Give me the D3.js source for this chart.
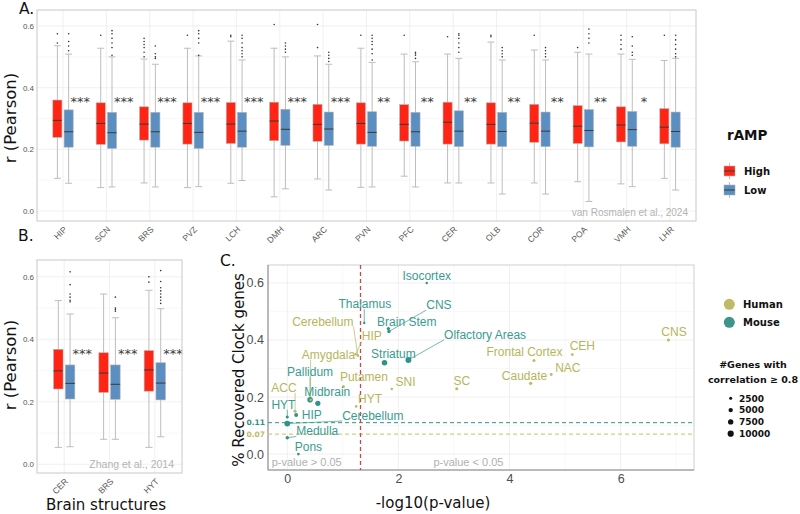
<!DOCTYPE html>
<html>
<head>
<meta charset="utf-8">
<script src="https://cdn.jsdelivr.net/npm/d3@7"></script>
<style>
body { margin: 0; background: #fff; }
svg text { font-family: "Liberation Sans", Arial, sans-serif; }
svg .ttl { font-family: "DejaVu Sans", Verdana, sans-serif; }
</style>
</head>
<body>
<svg id="fig" width="800" height="514"></svg>
<script>
// ---- panel A : van Rosmalen et al., 2024 ----
var regionsA = ["HIP","SCN","BRS","PVZ","LCH","DMH","ARC","PVN","PFC","CER","OLB","COR","POA","VMH","LHR"];
// [lower whisker, q1, median, q3, upper whisker]
var highA = [
  [0.106,0.239,0.294,0.360,0.536],[0.076,0.216,0.284,0.351,0.528],[0.091,0.230,0.282,0.338,0.493],
  [0.076,0.217,0.284,0.351,0.528],[0.090,0.219,0.282,0.352,0.551],[0.046,0.228,0.292,0.353,0.528],
  [0.104,0.226,0.281,0.346,0.503],[0.077,0.217,0.284,0.351,0.528],[0.113,0.227,0.281,0.345,0.509],
  [0.091,0.217,0.288,0.353,0.509],[0.091,0.217,0.281,0.351,0.548],[0.091,0.223,0.285,0.346,0.522],
  [0.095,0.219,0.275,0.342,0.515],[0.088,0.224,0.279,0.338,0.509],[0.106,0.218,0.272,0.332,0.488]
];
var lowA = [
  [0.090,0.207,0.257,0.328,0.509],[0.078,0.203,0.254,0.320,0.500],[0.078,0.207,0.257,0.320,0.476],
  [0.079,0.203,0.255,0.320,0.503],[0.099,0.207,0.259,0.320,0.490],[0.072,0.213,0.265,0.330,0.500],
  [0.068,0.213,0.266,0.321,0.476],[0.078,0.210,0.255,0.322,0.482],[0.078,0.210,0.257,0.320,0.484],
  [0.091,0.209,0.259,0.325,0.495],[0.055,0.209,0.258,0.320,0.490],[0.055,0.209,0.259,0.321,0.490],
  [0.031,0.208,0.261,0.329,0.509],[0.079,0.210,0.264,0.323,0.492],[0.068,0.207,0.258,0.321,0.495]
];
var highOutA = [[0.575,0.545],[0.57],[0.56,0.55,0.54,0.53,0.515,0.50],[0.57],[0.57,0.565],[0.605],
  [0.605,0.53],[0.57],[0.57],[0.565],[0.57,0.565],[0.57],[0.53],[0.57,0.555,0.54,0.525],[0.57]];
var lowOutA = [[0.575,0.55,0.535,0.52],[0.585,0.575,0.56,0.545,0.53,0.505],[0.535,0.51,0.50,0.495],
  [0.585,0.575,0.56,0.545,0.505],[0.57,0.56,0.545,0.53,0.52,0.51,0.50],[0.545,0.535,0.525,0.515],
  [0.515,0.505,0.495,0.485],[0.57,0.56,0.55,0.54,0.525,0.51,0.49],[0.515,0.51,0.505,0.495],
  [0.575,0.57,0.56,0.545,0.53,0.515],[0.53,0.52,0.51,0.50],[0.53,0.52,0.51,0.50],
  [0.59,0.575,0.56,0.545],[0.565,0.535,0.515,0.505],[0.57,0.555,0.54,0.525,0.51,0.50]];
var sigA = ["***","***","***","***","***","***","***","**","**","**","**","**","**","*",""];

// ---- panel B : Zhang et al., 2014 ----
var regionsB = ["CER","BRS","HYT"];
var highB = [[0.054,0.241,0.299,0.368,0.524],[0.080,0.230,0.292,0.357,0.545],[0.054,0.234,0.302,0.364,0.557]];
var lowB = [[0.056,0.209,0.259,0.318,0.481],[0.080,0.208,0.256,0.318,0.469],[0.088,0.206,0.260,0.325,0.498]];
var highOutB = [[],[],[0.60,0.583]];
var lowOutB = [[0.616,0.575,0.545,0.535,0.525,0.52],[0.535,0.50,0.495,0.49],
  [0.62,0.585,0.565,0.555,0.545,0.535,0.525,0.515]];
var sigB = ["***","***","***"];

// ---- panel C : recovered clock genes ----
var cNames   = ["Isocortex","Thalamus","CNS","Brain Stem","Olfactory Areas","Striatum","Pallidum","Midbrain","HYT","HIP","Cerebellum","Medulla","Pons",
                "Cerebellum","HIP","Amygdala","Putamen","HYT","SNI","SC","Frontal Cortex","Caudate","NAC","CEH","CNS","ACC"];
var cSpecies = ["Mouse","Mouse","Mouse","Mouse","Mouse","Mouse","Mouse","Mouse","Mouse","Mouse","Mouse","Mouse","Mouse",
                "Human","Human","Human","Human","Human","Human","Human","Human","Human","Human","Human","Human","Human"];
var cLogP    = [2.51,1.385,1.83,1.82,2.18,1.75,0.41,0.55,0.0,0.16,0.0,0.0,0.2,
                1.27,1.23,0.42,1.01,1.24,1.88,3.05,4.44,4.38,4.75,5.13,6.86,0.14];
var cRecov   = [0.60,0.46,0.43,0.44,0.33,0.32,0.19,0.178,0.13,0.137,0.107,0.057,0.0,
                0.345,0.35,0.19,0.237,0.167,0.228,0.229,0.328,0.248,0.279,0.349,0.40,0.15];
var cGenes   = [1500,1500,3000,3000,9000,8000,8000,7000,2500,4000,8500,3000,2000,
                1800,1800,1800,2500,1800,1800,2500,2500,3000,2200,2000,2500,2500];
var thrMouse = 0.11, thrHuman = 0.07, pCut = 0.05;
var sizeKeys = [2500,5000,7500,10000];

// label placement (data units), as chosen by the repel layout
var labelPosC = [[2.51,0.625],[1.396,0.526],[2.73,0.523],[2.15,0.465],[3.56,0.419],[1.91,0.353],[0.41,0.29],[0.72,0.217],
                 [-0.07,0.174],[0.44,0.137],[1.54,0.134],[0.54,0.08],[0.38,0.025],
                 [0.64,0.465],[1.52,0.413],[0.74,0.349],[1.38,0.272],[1.49,0.194],[2.13,0.252],[3.14,0.256],
                 [4.27,0.36],[4.27,0.273],[5.05,0.302],[5.31,0.379],[6.96,0.427],[-0.06,0.233]];

var svg = d3.select("#fig");
var colHigh = "#ff2413", colLow = "#5b8ec1";
var colHuman = "#bdbb66", colMouse = "#30938a";
var txtHuman = "#b7b55c", txtMouse = "#3a9b90";

function drawBoxPanel(o) {
  var x = d3.scalePoint().domain(o.regions).range([o.left, o.right]).padding(0.6);
  var y = d3.scaleLinear().domain(o.yDomain).range([o.bottom, o.top]);
  var step = x.step(), bw = step * 0.21, gap = step * 0.025;
  var g = svg.append("g");

  g.selectAll(".minor").data([0.1, 0.3, 0.5]).enter().append("line")
    .attr("x1", o.left).attr("x2", o.right)
    .attr("y1", function(d) { return y(d); }).attr("y2", function(d) { return y(d); })
    .attr("stroke", "#f4f4f4").attr("stroke-width", 0.6);
  g.selectAll(".major").data([0, 0.2, 0.4, 0.6]).enter().append("line")
    .attr("x1", o.left).attr("x2", o.right)
    .attr("y1", function(d) { return y(d); }).attr("y2", function(d) { return y(d); })
    .attr("stroke", "#ececec").attr("stroke-width", 0.8);
  g.selectAll(".vgrid").data(o.regions).enter().append("line")
    .attr("x1", function(d) { return x(d); }).attr("x2", function(d) { return x(d); })
    .attr("y1", o.top).attr("y2", o.bottom)
    .attr("stroke", "#ececec").attr("stroke-width", 0.8);

  var boxes = [];
  o.regions.forEach(function(r, i) {
    boxes.push({r: r, s: o.high[i], out: o.highOut[i], x0: x(r) - gap - bw, fill: colHigh});
    boxes.push({r: r, s: o.low[i], out: o.lowOut[i], x0: x(r) + gap, fill: colLow});
  });

  var b = g.selectAll(".box").data(boxes).enter().append("g");
  b.append("line")
    .attr("x1", function(d) { return d.x0 + bw / 2; }).attr("x2", function(d) { return d.x0 + bw / 2; })
    .attr("y1", function(d) { return y(d.s[4]); }).attr("y2", function(d) { return y(d.s[0]); })
    .attr("stroke", "#bdbdbd").attr("stroke-width", 1);
  [0, 4].forEach(function(k) {
    b.append("line")
      .attr("x1", function(d) { return d.x0 + bw * 0.12; }).attr("x2", function(d) { return d.x0 + bw * 0.88; })
      .attr("y1", function(d) { return y(d.s[k]); }).attr("y2", function(d) { return y(d.s[k]); })
      .attr("stroke", "#bdbdbd").attr("stroke-width", 1);
  });
  b.append("rect")
    .attr("x", function(d) { return d.x0; }).attr("width", bw)
    .attr("y", function(d) { return y(d.s[3]); })
    .attr("height", function(d) { return y(d.s[1]) - y(d.s[3]); })
    .attr("fill", function(d) { return d.fill; })
    .attr("stroke", "#b4b4b4").attr("stroke-width", 0.6);
  b.append("line")
    .attr("x1", function(d) { return d.x0; }).attr("x2", function(d) { return d.x0 + bw; })
    .attr("y1", function(d) { return y(d.s[2]); }).attr("y2", function(d) { return y(d.s[2]); })
    .attr("stroke", "#3a3a3a").attr("stroke-width", 1);
  b.each(function(d) {
    d3.select(this).selectAll("circle").data(d.out).enter().append("circle")
      .attr("cx", d.x0 + bw / 2).attr("cy", function(v) { return y(v); })
      .attr("r", 0.8).attr("fill", "#333");
  });

  g.selectAll(".sig").data(o.regions).enter().append("text")
    .attr("class", "ttl")
    .attr("x", function(d) { return x(d) + step * 0.4; })
    .attr("y", y(o.sigY) + 7.5)
    .attr("text-anchor", "middle").attr("font-size", "13px").attr("fill", "#3c3c3c")
    .text(function(d, i) { return o.sig[i]; });

  g.append("rect").attr("x", o.left).attr("y", o.top)
    .attr("width", o.right - o.left).attr("height", o.bottom - o.top)
    .attr("fill", "none").attr("stroke", "#c8c8c8").attr("stroke-width", 1);

  var ay = g.append("g").attr("transform", "translate(" + o.left + ",0)")
    .call(d3.axisLeft(y).tickValues([0, 0.2, 0.4, 0.6]).tickFormat(d3.format(".1f")).tickSize(0).tickPadding(3));
  ay.select(".domain").remove();
  ay.selectAll("text").attr("font-size", "8px").attr("fill", "#555");

  var ax = g.append("g").attr("transform", "translate(0," + o.bottom + ")")
    .call(d3.axisBottom(x).tickSize(0));
  ax.select(".domain").remove();
  ax.selectAll("text")
    .attr("x", 0).attr("y", 0).attr("dy", 0)
    .attr("transform", "translate(4,9) rotate(-45)")
    .attr("text-anchor", "end")
    .attr("font-size", "8.5px").attr("fill", "#555");

  g.append("text").attr("x", o.right - 8).attr("y", o.bottom - 5)
    .attr("text-anchor", "end").attr("font-size", o.creditSize).attr("fill", "#b3b3b3")
    .text(o.credit);

  g.append("text").attr("class", "ttl")
    .attr("transform", "translate(16," + o.titleY + ") rotate(-90)")
    .attr("text-anchor", "middle").attr("font-size", "16.5px").attr("fill", "#111")
    .text("r (Pearson)");
}

drawBoxPanel({regions: regionsA, high: highA, low: lowA, highOut: highOutA, lowOut: lowOutA, sig: sigA,
  left: 37, right: 696, top: 10, bottom: 221, yDomain: [-0.0324, 0.652], sigY: 0.365,
  credit: "van Rosmalen et al., 2024", creditSize: "10px", titleY: 118});

drawBoxPanel({regions: regionsB, high: highB, low: lowB, highOut: highOutB, lowOut: lowOutB, sig: sigB,
  left: 37, right: 182, top: 260, bottom: 473, yDomain: [-0.028, 0.654], sigY: 0.364,
  credit: "Zhang et al., 2014", creditSize: "10.5px", titleY: 365});

svg.append("text").attr("class", "ttl").attr("x", 106).attr("y", 510)
  .attr("text-anchor", "middle").attr("font-size", "15px").attr("fill", "#111").text("Brain structures");

// panel letters
[["A.", 19, 14], ["B.", 18, 241], ["C.", 220, 266]].forEach(function(p) {
  svg.append("text").attr("class", "ttl").attr("x", p[1]).attr("y", p[2])
    .attr("font-size", "15.5px").attr("fill", "#111").text(p[0]);
});

// legend A
svg.append("text").attr("class", "ttl").attr("x", 727).attr("y", 140)
  .attr("font-size", "13.5px").attr("font-weight", "bold").attr("fill", "#111").text("rAMP");
[["High", colHigh, 166], ["Low", colLow, 185]].forEach(function(k) {
  var lg = svg.append("g");
  lg.append("line").attr("x1", 729.5).attr("x2", 729.5).attr("y1", k[2] - 3).attr("y2", k[2] + 13)
    .attr("stroke", "#bdbdbd");
  lg.append("rect").attr("x", 724).attr("y", k[2]).attr("width", 11).attr("height", 10)
    .attr("fill", k[1]).attr("stroke", "#b4b4b4").attr("stroke-width", 0.6);
  lg.append("line").attr("x1", 724).attr("x2", 735).attr("y1", k[2] + 5).attr("y2", k[2] + 5)
    .attr("stroke", "#3a3a3a");
  lg.append("text").attr("class", "ttl").attr("x", 744).attr("y", k[2] + 8.5)
    .attr("font-size", "10px").attr("font-weight", "bold").attr("fill", "#111").text(k[0]);
});

// ---- panel C ----
var cL = 268, cR = 694, cT = 265, cB = 470;
var xC = d3.scaleLinear().domain([-0.347, 7.32]).range([cL, cR]);
var yC = d3.scaleLinear().domain([-0.056, 0.663]).range([cB, cT]);
var rC = d3.scaleSqrt().domain([0, 10000]).range([0, 3.1]);
var gC = svg.append("g");

gC.selectAll(".cminy").data([0.1, 0.3, 0.5]).enter().append("line")
  .attr("x1", cL).attr("x2", cR).attr("y1", function(d) { return yC(d); }).attr("y2", function(d) { return yC(d); })
  .attr("stroke", "#f4f4f4").attr("stroke-width", 0.6);
gC.selectAll(".cmajy").data([0, 0.2, 0.4, 0.6]).enter().append("line")
  .attr("x1", cL).attr("x2", cR).attr("y1", function(d) { return yC(d); }).attr("y2", function(d) { return yC(d); })
  .attr("stroke", "#ececec").attr("stroke-width", 0.8);
gC.selectAll(".cminx").data([1, 3, 5, 7]).enter().append("line")
  .attr("y1", cT).attr("y2", cB).attr("x1", function(d) { return xC(d); }).attr("x2", function(d) { return xC(d); })
  .attr("stroke", "#f4f4f4").attr("stroke-width", 0.6);
gC.selectAll(".cmajx").data([0, 2, 4, 6]).enter().append("line")
  .attr("y1", cT).attr("y2", cB).attr("x1", function(d) { return xC(d); }).attr("x2", function(d) { return xC(d); })
  .attr("stroke", "#ececec").attr("stroke-width", 0.8);

gC.append("rect").attr("x", cL).attr("y", cT).attr("width", cR - cL).attr("height", cB - cT)
  .attr("fill", "none").attr("stroke", "#cfcfcf");
gC.append("line").attr("x1", cL).attr("x2", cL).attr("y1", cT).attr("y2", cB).attr("stroke", "#8c8c8c");
gC.append("line").attr("x1", cL).attr("x2", cR).attr("y1", cB).attr("y2", cB).attr("stroke", "#8c8c8c");

// thresholds
gC.append("line").attr("x1", cL).attr("x2", cR).attr("y1", yC(thrMouse)).attr("y2", yC(thrMouse))
  .attr("stroke", colMouse).attr("stroke-width", 1).attr("stroke-dasharray", "4,3");
gC.append("line").attr("x1", cL).attr("x2", cR).attr("y1", yC(thrHuman)).attr("y2", yC(thrHuman))
  .attr("stroke", "#cfcd86").attr("stroke-width", 1.1).attr("stroke-dasharray", "4,3");
var xCut = Math.round(xC(-Math.log10(pCut))) + 0.5;
gC.append("line").attr("x1", xCut).attr("x2", xCut)
  .attr("y1", cT).attr("y2", cB)
  .style("stroke", "#c4484e").style("stroke-width", 1.3).style("stroke-dasharray", "4,3");
gC.append("text").attr("x", cL - 3).attr("y", yC(thrMouse) + 2.5).attr("text-anchor", "end")
  .attr("font-size", "7.5px").attr("font-weight", "bold").attr("fill", colMouse).style("font-family", "DejaVu Sans, sans-serif")
  .text(thrMouse.toFixed(2));
gC.append("text").attr("x", cL - 3).attr("y", yC(thrHuman) + 2.5).attr("text-anchor", "end")
  .attr("font-size", "7.5px").attr("font-weight", "bold").attr("fill", "#bdbb66").style("font-family", "DejaVu Sans, sans-serif")
  .text(thrHuman.toFixed(2));

gC.append("text").attr("x", xC(-0.28)).attr("y", yC(-0.042)).attr("font-size", "11px").attr("fill", "#b0b0b0")
  .text("p-value > 0.05");
gC.append("text").attr("x", xC(2.63)).attr("y", yC(-0.042)).attr("font-size", "11px").attr("fill", "#b0b0b0")
  .text("p-value < 0.05");

// axes C
var ayC = gC.append("g").attr("transform", "translate(" + cL + ",0)")
  .call(d3.axisLeft(yC).tickValues([0, 0.2, 0.4, 0.6]).tickFormat(d3.format(".1f")).tickSize(0).tickPadding(4));
ayC.select(".domain").remove();
ayC.selectAll("text").attr("font-size", "12.5px").attr("fill", "#4d4d4d");
var axC = gC.append("g").attr("transform", "translate(0," + cB + ")")
  .call(d3.axisBottom(xC).tickValues([0, 2, 4, 6]).tickFormat(d3.format("d")).tickSize(0).tickPadding(4));
axC.select(".domain").remove();
axC.selectAll("text").attr("font-size", "12.5px").attr("fill", "#4d4d4d");

svg.append("text").attr("class", "ttl").attr("x", 433).attr("y", 508)
  .attr("text-anchor", "middle").attr("font-size", "15px").attr("fill", "#111").text("-log10(p-value)");
svg.append("text").attr("class", "ttl").attr("transform", "translate(244,370) rotate(-90)")
  .attr("text-anchor", "middle").attr("font-size", "15px").attr("fill", "#111").text("% Recovered Clock genes");

// points, labels and repel segments
var pts = cNames.map(function(n, i) {
  return {name: n, sp: cSpecies[i], x: cLogP[i], y: cRecov[i], genes: cGenes[i], lx: labelPosC[i][0], ly: labelPosC[i][1]};
});
var segG = gC.append("g"), ptG = gC.append("g"), labG = gC.append("g");
ptG.selectAll("circle").data(pts).enter().append("circle")
  .attr("cx", function(d) { return xC(d.x); }).attr("cy", function(d) { return yC(d.y); })
  .attr("r", function(d) { return rC(d.genes); })
  .attr("fill", function(d) { return d.sp === "Human" ? colHuman : colMouse; });
labG.selectAll("text").data(pts).enter().append("text")
  .attr("x", function(d) { return xC(d.lx); }).attr("y", function(d) { return yC(d.ly); })
  .attr("dy", "0.35em").attr("text-anchor", "middle").attr("font-size", "12px")
  .attr("fill", function(d) { return d.sp === "Human" ? txtHuman : txtMouse; })
  .text(function(d) { return d.name; })
  .each(function(d) {
    var bb = this.getBBox();
    var px = xC(d.x), py = yC(d.y);
    var ex = Math.max(bb.x, Math.min(px, bb.x + bb.width));
    var ey = Math.max(bb.y + 2, Math.min(py, bb.y + bb.height - 2));
    if (Math.hypot(ex - px, ey - py) > 6) {
      segG.append("line").attr("x1", px).attr("y1", py).attr("x2", ex).attr("y2", ey)
        .attr("stroke", d.sp === "Human" ? txtHuman : txtMouse).attr("stroke-width", 0.7);
    }
  });

// legend C
[["Human", colHuman, 304.3], ["Mouse", "#3b958b", 322.3]].forEach(function(k) {
  svg.append("circle").attr("cx", 729.3).attr("cy", k[2]).attr("r", 5.5).attr("fill", k[1]);
  svg.append("text").attr("class", "ttl").attr("x", 743).attr("y", k[2] + 3.5)
    .attr("font-size", "10px").attr("font-weight", "bold").attr("fill", "#111").text(k[0]);
});
svg.append("text").attr("class", "ttl").attr("x", 753).attr("y", 368).attr("text-anchor", "middle")
  .attr("font-size", "9.5px").attr("font-weight", "bold").attr("fill", "#111").text("#Genes with");
svg.append("text").attr("class", "ttl").attr("x", 753).attr("y", 382.5).attr("text-anchor", "middle")
  .attr("font-size", "9.5px").attr("font-weight", "bold").attr("fill", "#111").text("correlation \u2265 0.8");
sizeKeys.forEach(function(v, i) {
  var cy = 398.3 + i * 11.8;
  svg.append("circle").attr("cx", 730.7).attr("cy", cy).attr("r", rC(v)).attr("fill", "#111");
  svg.append("text").attr("class", "ttl").attr("x", 739).attr("y", cy + 3.2)
    .attr("font-size", "9px").attr("font-weight", "bold").attr("fill", "#111").text(v);
});
</script>
</body>
</html>
